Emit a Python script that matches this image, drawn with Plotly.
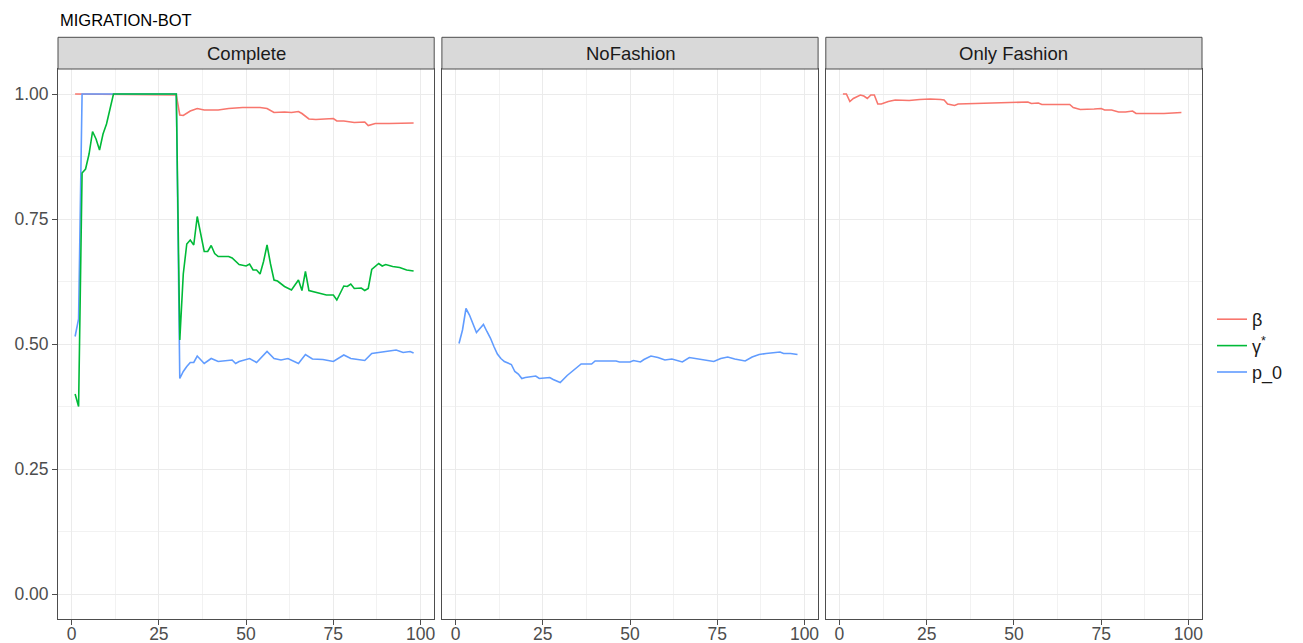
import plotly.graph_objects as go

# ---------------- data ----------------
panels = ["Complete", "NoFashion", "Only Fashion"]
series_names = ["β", "γ<sup>*</sup>", "p_0"]
series_colors = ["#F8766D", "#00BA38", "#619CFF"]
x_ticks = [0, 25, 50, 75, 100]
y_ticks = [0.0, 0.25, 0.5, 0.75, 1.0]
y_tick_labels = ["0.00", "0.25", "0.50", "0.75", "1.00"]

complete_beta_x = [1, 30, 31, 32, 34, 36, 38, 42, 45, 49, 54, 56, 58, 61, 63, 65, 66, 68, 70, 73, 75,
                   76, 78, 81, 84, 85, 87, 91, 94, 98]
complete_beta_y = [1.0, 0.998, 0.958, 0.957, 0.966, 0.971, 0.968, 0.968, 0.971, 0.973, 0.973, 0.971,
                   0.963, 0.964, 0.963, 0.965, 0.961, 0.950, 0.949, 0.950, 0.951, 0.946, 0.946, 0.943,
                   0.944, 0.937, 0.941, 0.941, 0.941, 0.942]

complete_gamma_x = [1, 2, 3, 4, 5, 6, 7, 8, 9, 10, 11, 12, 30, 31, 32, 33, 34, 35, 36, 37, 38, 39, 40,
                    41, 42, 45, 46, 48, 50, 51, 52, 53, 54, 55, 56, 57, 58, 59, 61, 63, 65, 66, 67, 68,
                    70, 73, 75, 76, 78, 79, 80, 81, 83, 84, 85, 86, 88, 89, 90, 92, 94, 96, 98]
complete_gamma_y = [0.40, 0.375, 0.842, 0.85, 0.88, 0.925, 0.91, 0.888, 0.92, 0.94, 0.97, 1.0, 1.0,
                    0.508, 0.64, 0.70, 0.708, 0.698, 0.755, 0.72, 0.685, 0.685, 0.697, 0.681, 0.675,
                    0.675, 0.672, 0.659, 0.656, 0.66, 0.648, 0.648, 0.64, 0.665, 0.698, 0.66, 0.628,
                    0.626, 0.615, 0.608, 0.628, 0.607, 0.645, 0.607, 0.603, 0.598, 0.598, 0.588, 0.616,
                    0.615, 0.62, 0.611, 0.612, 0.607, 0.611, 0.649, 0.661, 0.656, 0.659, 0.655, 0.653,
                    0.648, 0.646]

complete_p0_x = [1, 2, 3, 30, 31, 32, 33, 34, 35, 36, 38, 40, 42, 46, 47, 48, 51, 53, 56, 58, 60, 62,
                 65, 67, 69, 72, 75, 78, 80, 82, 84, 86, 88, 90, 93, 95, 97, 98]
complete_p0_y = [0.515, 0.55, 1.0, 1.0, 0.431, 0.445, 0.455, 0.463, 0.463, 0.476, 0.461, 0.471, 0.465,
                 0.468, 0.461, 0.465, 0.471, 0.463, 0.485, 0.471, 0.468, 0.471, 0.461, 0.479, 0.470,
                 0.469, 0.465, 0.478, 0.471, 0.469, 0.467, 0.481, 0.483, 0.485, 0.488, 0.483, 0.485,
                 0.482]

nofashion_p0_x = [1, 2, 3, 4, 6, 7, 8, 9, 10, 11, 12, 13, 14, 16, 17, 18, 19, 20, 22, 23, 24, 26, 27,
                  28, 30, 32, 34, 36, 39, 40, 43, 46, 47, 50, 51, 53, 54, 56, 58, 60, 62, 65, 67, 70,
                  72, 74, 76, 78, 80, 82, 83, 85, 87, 89, 91, 93, 94, 96, 98]
nofashion_p0_y = [0.501, 0.528, 0.571, 0.558, 0.523, 0.53, 0.539, 0.525, 0.512, 0.495, 0.48, 0.471,
                  0.465, 0.459, 0.445, 0.44, 0.431, 0.433, 0.436, 0.436, 0.431, 0.433, 0.433, 0.429,
                  0.423, 0.437, 0.449, 0.46, 0.46, 0.466, 0.466, 0.466, 0.464, 0.464, 0.467, 0.464,
                  0.469, 0.476, 0.473, 0.468, 0.47, 0.464, 0.473, 0.47, 0.468, 0.465, 0.471, 0.474,
                  0.47, 0.468, 0.466, 0.474, 0.479, 0.481, 0.482, 0.484, 0.481, 0.481, 0.479]

onlyfashion_beta_x = [1, 2, 3, 4, 6, 7, 8, 9, 10, 11, 12, 14, 16, 19, 20, 23, 26, 29, 30, 31, 33, 34,
                      38, 43, 47, 51, 54, 55, 57, 58, 62, 66, 67, 69, 73, 75, 76, 78, 80, 82, 84, 85,
                      88, 93, 98]
onlyfashion_beta_y = [1.0, 1.0, 0.985, 0.991, 0.998, 0.996, 0.991, 0.998, 0.998, 0.98, 0.98, 0.985,
                      0.988, 0.988, 0.987, 0.989, 0.99, 0.989, 0.988, 0.98, 0.977, 0.98, 0.981, 0.981,
                      0.983, 0.983, 0.984, 0.981, 0.982, 0.979, 0.979, 0.979, 0.973, 0.969, 0.97,
                      0.971, 0.968, 0.968, 0.964, 0.964, 0.966, 0.961, 0.961, 0.961, 0.963]

# ---------------- figure ----------------
FONT = "Liberation Sans, Arial, Helvetica, sans-serif"
W, H = 1303, 643
ML, MR, MT, MB = 58, 101, 37, 24
plot_w = W - ML - MR
plot_h = H - MT - MB
panel_top_px = 69
dom_top = (H - MB - panel_top_px) / plot_h

gap = 7.7 / plot_w
pw = (1 - 2 * gap) / 3
domains = [[i * (pw + gap), i * (pw + gap) + pw] for i in range(3)]

fig = go.Figure()

# (panel index, series index, x, y), drawing order: beta, p_0, gamma (gamma drawn on top)
traces = [
    (0, 0, complete_beta_x, complete_beta_y),
    (0, 2, complete_p0_x, complete_p0_y),
    (0, 1, complete_gamma_x, complete_gamma_y),
    (1, 2, nofashion_p0_x, nofashion_p0_y),
    (2, 0, onlyfashion_beta_x, onlyfashion_beta_y),
]
shown = set()
for p, s, xs, ys in traces:
    suffix = "" if p == 0 else str(p + 1)
    fig.add_trace(go.Scatter(
        x=xs, y=ys, mode="lines",
        name=series_names[s], legendgroup=series_names[s], legendrank=s + 1,
        showlegend=s not in shown,
        line=dict(color=series_colors[s], width=1.6),
        xaxis="x" + suffix, yaxis="y" + suffix,
        hoverinfo="skip",
    ))
    shown.add(s)

axis_common = dict(
    showgrid=True, gridcolor="#EBEBEB", gridwidth=1.2,
    showline=True, mirror=True, linecolor="#4D4D4D", linewidth=1,
    zeroline=False, automargin=False,
    tickfont=dict(family=FONT, size=17.5, color="#4D4D4D"),
)

layout = dict(
    width=W, height=H,
    margin=dict(l=ML, r=MR, t=MT, b=MB, autoexpand=False),
    paper_bgcolor="white", plot_bgcolor="white",
    font=dict(family=FONT),
    showlegend=True,
    legend=dict(
        x=(1212 - ML) / plot_w, xanchor="left",
        y=(H - MB - 346) / plot_h, yanchor="middle",
        font=dict(family=FONT, size=18, color="#1A1A1A"),
        bgcolor="rgba(0,0,0,0)", tracegroupgap=0,
        itemwidth=30,
    ),
)

shapes = []
annotations = []
for i in range(3):
    suffix = "" if i == 0 else str(i + 1)
    layout["xaxis" + suffix] = dict(
        domain=domains[i], range=[-3.9, 103.9], anchor="y" + suffix,
        tickvals=x_ticks, ticks="outside", ticklen=5, tickcolor="#4D4D4D", tickwidth=1,
        ticklabelstandoff=-6,
        minor=dict(tickvals=[12.5, 37.5, 62.5, 87.5], showgrid=True, gridcolor="#F2F2F2",
                   gridwidth=0.7, ticks=""),
        **axis_common,
    )
    ydict = dict(
        domain=[0, dom_top], range=[-0.05, 1.05], anchor="x" + suffix,
        tickvals=y_ticks,
        minor=dict(tickvals=[0.125, 0.375, 0.625, 0.875], showgrid=True, gridcolor="#F2F2F2",
                   gridwidth=0.7, ticks=""),
        **axis_common,
    )
    if i == 0:
        ydict.update(ticktext=y_tick_labels, ticks="outside", ticklen=5, tickcolor="#4D4D4D",
                     tickwidth=1, showticklabels=True)
    else:
        ydict.update(showticklabels=False, ticks="")
    layout["yaxis" + suffix] = ydict

    shapes.append(dict(
        type="rect", xref="x" + suffix + " domain", yref="paper",
        x0=0, x1=1, y0=dom_top, y1=(H - MB - 37.3) / plot_h,
        fillcolor="#D9D9D9", line=dict(color="#4D4D4D", width=1), layer="above",
    ))
    annotations.append(dict(
        text=panels[i], xref="x" + suffix + " domain", yref="paper",
        x=0.5, y=(H - MB - 53) / plot_h, xanchor="center", yanchor="middle",
        showarrow=False, font=dict(family=FONT, size=18.5, color="#1A1A1A"),
    ))

annotations.append(dict(
    text="MIGRATION-BOT", xref="paper", yref="paper",
    x=0, y=(H - MB - 19.5) / plot_h, xanchor="left", yanchor="middle",
    showarrow=False, font=dict(family=FONT, size=16.5, color="black"),
))

layout["shapes"] = shapes
layout["annotations"] = annotations
fig.update_layout(**layout)
fig.write_html("out.html")
